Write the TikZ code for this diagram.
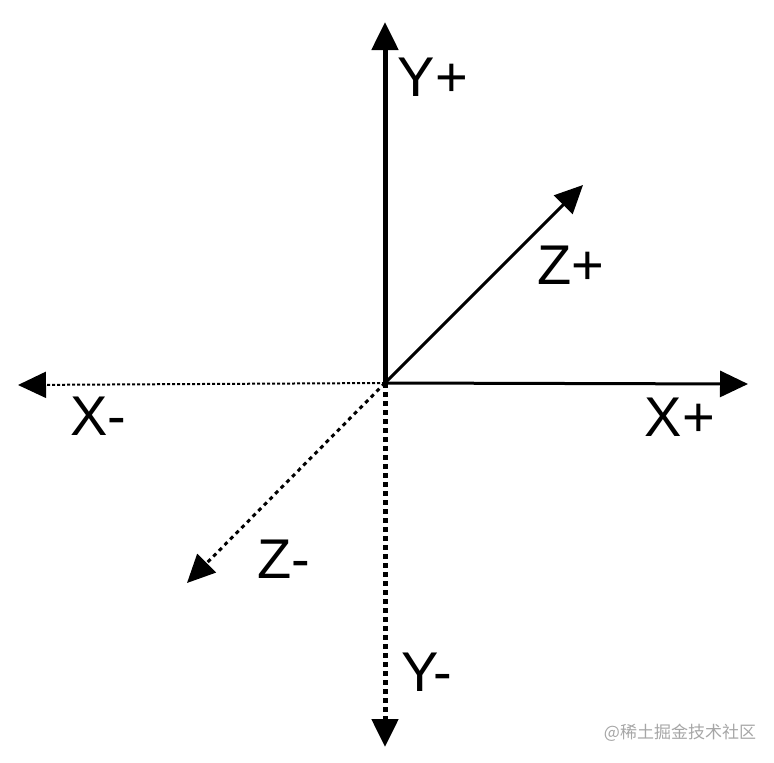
\documentclass[tikz,border=0pt]{standalone}
\usepackage{fontspec}
\setmainfont{Liberation Sans}
\newfontfamily\cjkfont{Noto Sans CJK SC}
\usetikzlibrary{arrows.meta}

\begin{document}
\begin{tikzpicture}[x=1pt,y=-1pt,
    axis/.style={-{Triangle[length=28pt,width=26pt]}},
    axislabel/.style={font=\fontsize{56}{60}\selectfont,inner sep=0pt}]
            \useasboundingbox (0,0) rectangle (774,763);
            \coordinate (o) at (385,383);
            \coordinate (yp) at (385,22);
            \coordinate (yn) at (385,747);
            \coordinate (xp) at (748,384);
            \coordinate (xn) at (18,385);
            \coordinate (zp) at (583,185);
            \coordinate (zn) at (187,583);
            \draw [axis,line width=5pt] (o) -- (yp);
            \draw [axis,line width=3pt] (o) -- (xp);
            \draw [axis,line width=3pt] (o) -- (zp);
            \draw [axis,line width=2pt,dash pattern=on 3pt off 2pt] (o) -- (xn);
            \draw [axis,line width=5pt,dash pattern=on 5pt off 4pt] (o) -- (yn);
            \draw [axis,line width=3pt,dash pattern=on 4pt off 4pt] (o) -- (zn);
            \node [axislabel] (lyp) at (433,77) {Y+};
            \node [axislabel] (lyn) at (427,672) {Y-};
            \node [axislabel] (lxp) at (680,417) {X+};
            \node [axislabel] (lxn) at (98,416) {X-};
            \node [axislabel] (lzp) at (571,265) {Z+};
            \node [axislabel] (lzn) at (284,559) {Z-};
            \node [font=\cjkfont\fontsize{17}{20}\selectfont,text=black!35,inner sep=0pt] (mark) at (680,733) {@稀土掘金技术社区};
        \end{tikzpicture}
\end{document}
